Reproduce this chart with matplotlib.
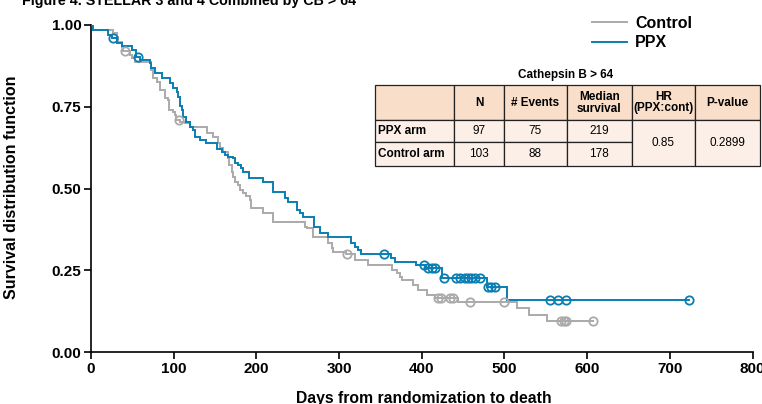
import matplotlib as mpl
import matplotlib.pyplot as plt
from matplotlib.patches import Rectangle
import numpy as np

mpl.rcParams['font.family'] = 'Liberation Sans'
mpl.rcParams['axes.spines.top'] = False
mpl.rcParams['axes.spines.right'] = False

# Kaplan-Meier steps (day of drop, survival after drop)
ppx_days = [0, 2, 21, 26, 31, 37, 50, 54, 55, 59, 71, 72.5, 77, 85.5, 95.5, 99.5, 103.6,
            105.6, 107.6, 109.7, 111.6, 115, 120, 123, 125.8, 131.8, 139, 152, 158, 162,
            166, 172, 174, 178, 182, 184, 191, 208, 219.7, 234.6, 238.6, 248.7, 252.7,
            256.7, 269.6, 277, 287, 315, 319, 323, 327, 363, 368, 393, 405, 425, 479, 503]
ppx_surv = [1.0, 0.985, 0.969, 0.959, 0.944, 0.936, 0.924, 0.918, 0.903, 0.893, 0.883,
            0.867, 0.852, 0.837, 0.822, 0.806, 0.796, 0.781, 0.752, 0.740, 0.720, 0.704,
            0.689, 0.679, 0.658, 0.648, 0.638, 0.620, 0.613, 0.602, 0.597, 0.592, 0.577,
            0.572, 0.562, 0.551, 0.531, 0.521, 0.490, 0.470, 0.460, 0.434, 0.424, 0.414,
            0.381, 0.363, 0.353, 0.333, 0.322, 0.312, 0.299, 0.287, 0.276, 0.266, 0.256,
            0.226, 0.200, 0.160]
ppx_censor = [27, 57, 354, 403, 408, 412, 416, 427, 442, 446, 452, 456, 460, 464, 470,
              480, 484, 488, 555, 565, 575, 723]
ppx_end = 723

ctl_days = [0, 2, 21, 27, 31, 33, 37, 39, 47, 49, 53, 72.5, 75, 80, 83.5, 89.5, 93.5, 94.7,
            99.5, 101.6, 103, 107.6, 113.6, 120, 140, 148, 154, 156, 160, 166, 167, 170, 172,
            174, 178, 180, 184, 188, 192, 194, 207.6, 220.5, 258.8, 261, 269, 287, 291, 293,
            308, 319, 335, 363.6, 369.7, 373.6, 375.7, 389.7, 396, 406, 416, 444, 514.7,
            530, 552]
ctl_surv = [1.0, 0.985, 0.985, 0.975, 0.964, 0.949, 0.934, 0.922, 0.908, 0.898, 0.888,
            0.862, 0.837, 0.827, 0.801, 0.776, 0.771, 0.740, 0.735, 0.725, 0.709, 0.704,
            0.699, 0.689, 0.669, 0.658, 0.638, 0.623, 0.613, 0.592, 0.572, 0.551, 0.536,
            0.521, 0.511, 0.495, 0.485, 0.477, 0.465, 0.439, 0.424, 0.398, 0.383, 0.378,
            0.353, 0.333, 0.317, 0.307, 0.301, 0.281, 0.266, 0.251, 0.241, 0.230, 0.220,
            0.205, 0.190, 0.174, 0.164, 0.154, 0.134, 0.113, 0.096]
ctl_censor = [41, 106, 310, 420, 423, 434, 438, 458, 500, 568, 572, 575, 607]
ctl_end = 607

x_ticks = [0, 100, 200, 300, 400, 500, 600, 700, 800]
y_ticks = [0.0, 0.25, 0.5, 0.75, 1.0]

table_title = 'Cathepsin B > 64'
col_labels = ['', 'N', '# Events', 'Median\nsurvival', 'HR\n(PPX:cont)', 'P-value']
row_labels = ['PPX arm', 'Control arm']
n_vals = ['97', '103']
event_vals = ['75', '88']
median_vals = ['219', '178']
hr_val = '0.85'
p_val = '0.2899'

blue = '#0a7eb3'
grey = '#aaaaaa'

W, H = 762, 404
fig = plt.figure(figsize=(W / 100, H / 100), dpi=100)
ax = fig.add_axes([91 / W, 1 - 352 / H, (752.5 - 91) / W, (352 - 25) / H])


def km(ax, days, surv, censor, end, color, label):
    xs = list(days) + [end]
    ys = list(surv) + [surv[-1]]
    ax.step(xs, ys, where='post', color=color, lw=1.4, label=label, zorder=3,
            solid_joinstyle='miter')
    idx = np.searchsorted(days, censor, side='right') - 1
    ax.plot(censor, np.array(surv)[idx], 'o', mfc='none', mec=color, ms=6, mew=1.3,
            zorder=4)


km(ax, ctl_days, ctl_surv, ctl_censor, ctl_end, grey, 'Control')
km(ax, ppx_days, ppx_surv, ppx_censor, ppx_end, blue, 'PPX')

ax.set_xlim(0, 800)
ax.set_ylim(0, 1)
ax.set_xticks(x_ticks)
ax.set_yticks(y_ticks)
ax.set_yticklabels(['%.2f' % v for v in y_ticks])
ax.tick_params(length=5, width=1.2, labelsize=11, pad=2)
for lab in ax.get_xticklabels() + ax.get_yticklabels():
    lab.set_fontweight('bold')
for s in ['left', 'bottom']:
    ax.spines[s].set_linewidth(1.2)
ax.patch.set_alpha(0)

fig.text(22 / W, 1 - 5 / H, 'Figure 4. STELLAR 3 and 4 Combined by CB > 64',
         fontsize=10.3, fontweight='bold', va='baseline', ha='left')
fig.text(424 / W, 1 / H, 'Days from randomization to death', fontsize=11.3,
         fontweight='bold', ha='center', va='baseline')
fig.text(12 / W, 1 - 187 / H, 'Survival distribution function', fontsize=11.5,
         fontweight='bold', rotation=90, ha='center', va='center')

leg = ax.legend(loc='upper left', bbox_to_anchor=(592 / W, 1 - 16 / H),
                bbox_transform=fig.transFigure, frameon=False, fontsize=11.5,
                handlelength=2.2, handletextpad=0.5, labelspacing=0.28,
                borderaxespad=0, borderpad=0)
for t in leg.get_texts():
    t.set_fontweight('bold')

# summary table drawn in figure pixels
xe = [374.7, 454, 504, 566.7, 631.7, 695, 759.5]
ye = [85, 120, 142, 166]
head_fill = '#f9dfca'
body_fill = '#fcefe7'
tfs = 8.5


def fx(px):
    return px / W


def fy(py):
    return 1 - py / H


def cell(x0, x1, y0, y1, fill):
    fig.patches.append(Rectangle((fx(x0), fy(y1)), fx(x1) - fx(x0), fy(y0) - fy(y1),
                                 transform=fig.transFigure, facecolor=fill,
                                 edgecolor='#222222', lw=0.9))


for i in range(6):
    cell(xe[i], xe[i + 1], ye[0], ye[1], head_fill)
    if i > 0:
        fig.text(fx((xe[i] + xe[i + 1]) / 2), fy((ye[0] + ye[1]) / 2), col_labels[i],
                 fontsize=tfs, fontweight='bold', ha='center', va='center',
                 linespacing=1.0)
for r in range(2):
    y0, y1 = ye[r + 1], ye[r + 2]
    vals = [row_labels[r], n_vals[r], event_vals[r], median_vals[r]]
    for i in range(4):
        cell(xe[i], xe[i + 1], y0, y1, body_fill)
        if i == 0:
            fig.text(fx(xe[0] + 3), fy((y0 + y1) / 2), vals[i], fontsize=tfs,
                     fontweight='bold', ha='left', va='center')
        else:
            fig.text(fx((xe[i] + xe[i + 1]) / 2), fy((y0 + y1) / 2), vals[i],
                     fontsize=tfs, ha='center', va='center')
for i, v in zip([4, 5], [hr_val, p_val]):
    cell(xe[i], xe[i + 1], ye[1], ye[3], body_fill)
    fig.text(fx((xe[i] + xe[i + 1]) / 2), fy((ye[1] + ye[3]) / 2), v, fontsize=tfs,
             ha='center', va='center')
fig.text(fx(566), fy(75), table_title, fontsize=tfs, fontweight='bold',
         ha='center', va='center')

fig.savefig('out.png', dpi=100)
